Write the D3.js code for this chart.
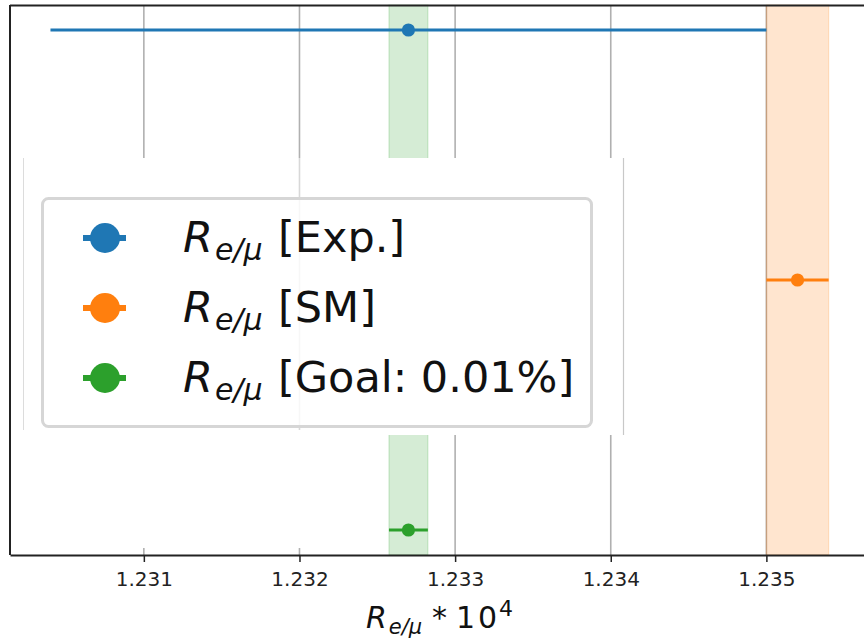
<!DOCTYPE html>
<html>
<head>
<meta charset="utf-8">
<script src="https://cdn.jsdelivr.net/npm/d3@7"></script>
<style>
  body { margin: 0; background: #fff; }
  text { font-family: "DejaVu Sans", sans-serif; white-space: pre; }
</style>
</head>
<body>
<div id="chart"></div>
<script>
// data
var labels = ["Exp.", "SM", "Goal: 0.01%"];
var centers = [1.2327, 1.2352, 1.2327];
var errors = [0.0023, 0.0002, 0.000125];
var rows = [2, 1, 0];
var colors = ["#1f77b4", "#ff7f0e", "#2ca02c"];
var bandSeries = [1, 2];
var tickValues = [1.231, 1.232, 1.233, 1.234, 1.235];

var W = 864, H = 642;
var margin = { top: 5, left: 10, bottom: 555 };

var svg = d3.select("#chart")
    .append("svg")
    .attr("width", W)
    .attr("height", H);

// x scale (right edge runs past the picture)
var x = d3.scaleLinear()
    .domain([1.23014, 1.23573])
    .range([10, 880]);

var y = d3.scaleLinear()
    .domain([-0.1, 2.1])
    .range([margin.bottom, margin.top]);

// grid
svg.append("g")
    .selectAll("line")
    .data(tickValues)
    .enter()
    .append("line")
    .attr("x1", function (d) { return x(d); })
    .attr("x2", function (d) { return x(d); })
    .attr("y1", margin.top)
    .attr("y2", margin.bottom)
    .attr("stroke", "#b0b0b0")
    .attr("stroke-width", 1.6);

// shaded bands
svg.append("g")
    .selectAll("rect")
    .data(bandSeries)
    .enter()
    .append("rect")
    .attr("x", function (i) { return x(centers[i] - errors[i]); })
    .attr("width", function (i) { return x(centers[i] + errors[i]) - x(centers[i] - errors[i]); })
    .attr("y", margin.top)
    .attr("height", margin.bottom - margin.top)
    .attr("fill", function (i) { return colors[i]; })
    .attr("fill-opacity", 0.2)
    .attr("stroke", function (i) { return colors[i]; })
    .attr("stroke-opacity", 0.2)
    .attr("stroke-width", 1.2);

// error bars
var pts = svg.append("g")
    .selectAll("g")
    .data(d3.range(labels.length))
    .enter()
    .append("g");

pts.append("line")
    .attr("x1", function (i) { return x(centers[i] - errors[i]); })
    .attr("x2", function (i) { return x(centers[i] + errors[i]); })
    .attr("y1", function (i) { return y(rows[i]); })
    .attr("y2", function (i) { return y(rows[i]); })
    .attr("stroke", function (i) { return colors[i]; })
    .attr("stroke-width", 3);

pts.append("circle")
    .attr("cx", function (i) { return x(centers[i]); })
    .attr("cy", function (i) { return y(rows[i]); })
    .attr("r", 6.6)
    .attr("fill", function (i) { return colors[i]; });

// white patches over the middle (as in the picture)
svg.append("rect")
    .attr("x", 22).attr("y", 158)
    .attr("width", 603).attr("height", 277)
    .attr("fill", "#fff");
svg.append("rect")
    .attr("x", 11).attr("y", 435)
    .attr("width", 374).attr("height", 113)
    .attr("fill", "#fff");
svg.append("line")
    .attr("x1", 23.5).attr("x2", 23.5).attr("y1", 158).attr("y2", 430)
    .attr("stroke", "#dcdcdc").attr("stroke-width", 1);
svg.append("line")
    .attr("x1", 623.5).attr("x2", 623.5).attr("y1", 158).attr("y2", 435)
    .attr("stroke", "#c8c8c8").attr("stroke-width", 1.2);
svg.append("line")
    .attr("x1", x(1.232)).attr("x2", x(1.232)).attr("y1", 158).attr("y2", 430)
    .attr("stroke", "#d8d8d8").attr("stroke-width", 1.6);

// x axis
var xAxis = svg.append("g")
    .attr("transform", "translate(0," + margin.bottom + ")")
    .call(d3.axisBottom(x)
        .tickValues(tickValues)
        .tickFormat(d3.format(".3f"))
        .tickSizeInner(7)
        .tickSizeOuter(0)
        .tickPadding(10));
xAxis.select(".domain").attr("stroke", "#222").attr("stroke-width", 2);
xAxis.selectAll(".tick line").attr("stroke", "#222").attr("stroke-width", 1.5);
xAxis.selectAll(".tick text")
    .attr("font-size", 20)
    .attr("font-family", "DejaVu Sans")
    .attr("fill", "#222");

// spines
svg.append("line")
    .attr("x1", 10).attr("x2", 10).attr("y1", margin.top).attr("y2", margin.bottom)
    .attr("stroke", "#222").attr("stroke-width", 2);
svg.append("line")
    .attr("x1", 10).attr("x2", W).attr("y1", margin.top + 0.5).attr("y2", margin.top + 0.5)
    .attr("stroke", "#222").attr("stroke-width", 2);

// axis label
var xl = svg.append("text")
    .attr("y", 628)
    .attr("font-size", 30)
    .attr("fill", "#111");
xl.append("tspan").attr("x", 366).attr("font-style", "italic").text("R");
xl.append("tspan").attr("font-style", "italic").attr("font-size", 21).attr("dx", 2).attr("dy", 6).text("e/μ");
xl.append("tspan").attr("x", 432).attr("dy", -6).text("*");
xl.append("tspan").attr("x", 456).attr("letter-spacing", 3).text("10");
xl.append("tspan").attr("x", 499).attr("font-size", 22).attr("dy", -12).text("4");

// legend
var legend = svg.append("g");
legend.append("rect")
    .attr("x", 42.5).attr("y", 198.5)
    .attr("width", 549).attr("height", 228)
    .attr("rx", 6)
    .attr("fill", "#fff").attr("fill-opacity", 0.8)
    .attr("stroke", "#d6d6d6").attr("stroke-width", 3);

var items = legend.selectAll(".item")
    .data(d3.range(labels.length))
    .enter()
    .append("g")
    .attr("class", "item")
    .attr("transform", function (i) { return "translate(0," + (238 + i * 70) + ")"; });

items.append("line")
    .attr("x1", 83).attr("x2", 126)
    .attr("stroke", function (i) { return colors[i]; })
    .attr("stroke-width", 6);
items.append("circle")
    .attr("cx", 105).attr("r", 15)
    .attr("fill", function (i) { return colors[i]; });

var lt = items.append("text")
    .attr("y", 14)
    .attr("font-size", 43)
    .attr("fill", "#111");
lt.append("tspan").attr("x", 183).attr("font-style", "italic").text("R");
lt.append("tspan").attr("font-style", "italic").attr("font-size", 30).attr("dx", 2).attr("dy", 8).text("e/μ");
lt.append("tspan").attr("x", 278).attr("dy", -8).text(function (i) { return "[" + labels[i] + "]"; });
</script>
</body>
</html>
